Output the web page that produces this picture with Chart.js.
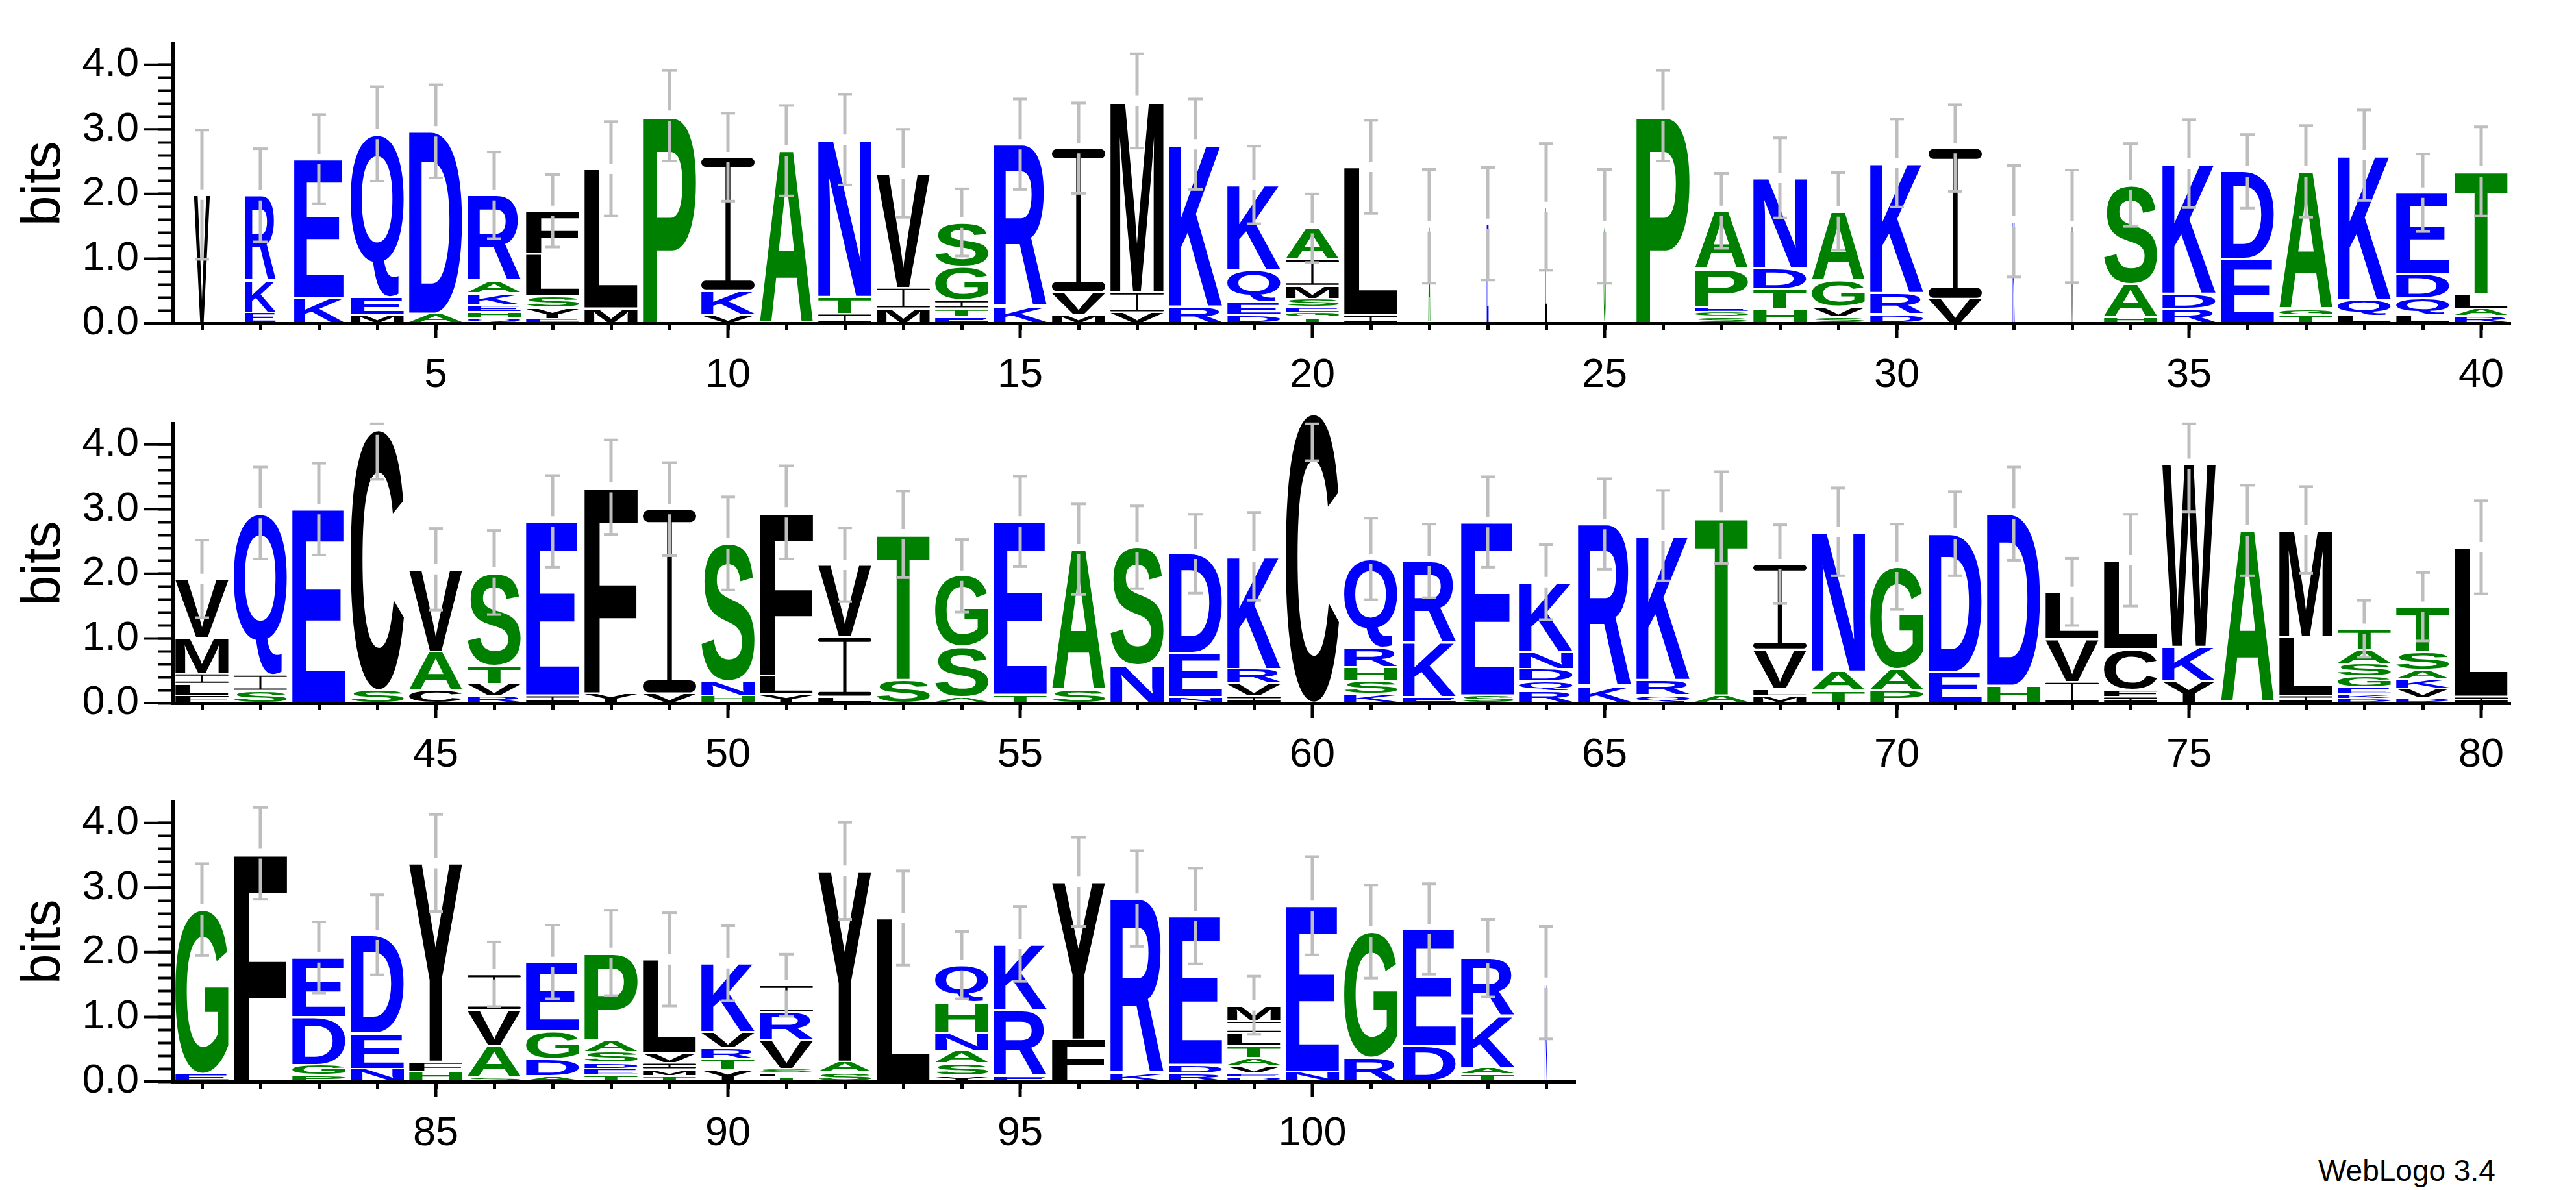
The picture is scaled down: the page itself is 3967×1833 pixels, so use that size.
<!DOCTYPE html>
<html>
<head>
<meta charset="utf-8">
<script src="https://cdn.jsdelivr.net/npm/chart.js@4.4.1/dist/chart.umd.min.js"></script>
<style>
  html, body { margin: 0; padding: 0; background: #fff; }
  body { width: 3967px; height: 1833px; position: relative; overflow: hidden; }
  .row { position: absolute; left: 0; width: 3967px; height: 598px; }
  #credit {
    position: absolute; left: 3570px; top: 1780px;
    font: 46px/46px "Liberation Sans", Arial, sans-serif; color: #000; white-space: nowrap;
  }
</style>
</head>
<body>
<div class="row" style="top:0px"><canvas id="row1" width="3967" height="598"></canvas></div>
<div class="row" style="top:585px"><canvas id="row2" width="3967" height="598"></canvas></div>
<div class="row" style="top:1168px"><canvas id="row3" width="3967" height="598"></canvas></div>
<div id="credit">WebLogo 3.4</div>
<script>
// residues per position, listed top of stack first
const lettersRow1 = ["V", "RKE", "EK", "QEM", "DA", "RAKEHQ", "FLSYE", "LM", "P", "IKV",
  "A", "NTI", "VIM", "SGITE", "RK", "IVM", "MIV", "KR", "KQED", "AIMSEGT",
  "LI", "A", "E", "L", "G", "P", "APEGS", "NDTH", "AGVS", "KRD",
  "IV", "K", "V", "SAH", "KDR", "DE", "AGT", "KQL", "EDQL", "TLAR"];
const bitsRow1 = [[1.99], [1.31, 0.50, 0.17], [2.15, 0.39], [2.52, 0.27, 0.14], [2.82, 0.15],
  [1.32, 0.19, 0.19, 0.10, 0.09, 0.09], [0.66, 0.66, 0.18, 0.17, 0.07], [2.16, 0.23], [3.21], [2.06, 0.37, 0.14],
  [2.67], [2.43, 0.26, 0.15], [1.77, 0.32, 0.23], [0.68, 0.52, 0.13, 0.13, 0.10], [2.51, 0.26],
  [2.23, 0.34, 0.14], [2.96, 0.31, 0.17], [2.51, 0.26], [1.32, 0.50, 0.19, 0.13], [0.48, 0.41, 0.20, 0.13, 0.08, 0.08, 0.09],
  [2.29, 0.13], [1.50], [1.54], [1.80], [1.50], [3.21], [0.90, 0.58, 0.08, 0.08, 0.10],
  [1.40, 0.32, 0.31, 0.22], [1.07, 0.40, 0.16, 0.10], [2.01, 0.33, 0.14],
  [2.33, 0.38], [1.58], [1.50], [1.53, 0.51, 0.10], [2.01, 0.23, 0.23], [1.35, 1.00], [2.13, 0.10, 0.12],
  [2.24, 0.24, 0.12], [1.25, 0.38, 0.26, 0.13], [1.90, 0.22, 0.12, 0.11]];
const errRow1 = [1.00, 0.72, 0.69, 0.73, 0.72, 0.67, 0.56, 0.73, 0.70, 0.68,
  0.70, 0.70, 0.68, 0.52, 0.70, 0.70, 0.73, 0.70, 0.60, 0.53,
  0.72, 0.88, 0.87, 0.98, 0.88, 0.70, 0.58, 0.62, 0.60, 0.68,
  0.67, 0.86, 0.87, 0.64, 0.68, 0.57, 0.71, 0.70, 0.60, 0.69];
const widthRow1 = [0.3, 0.57, 0.93, 1, 1, 1, 1, 1, 1, 1,
  1, 1, 1, 1, 1, 1, 1, 1, 1, 1,
  1, 0.035, 0.035, 0.035, 0.035, 1, 1, 1, 1, 1,
  1, 0.035, 0.03, 1, 1, 1, 1, 1, 1, 1];

const lettersRow2 = ["VMILF", "QIS", "E", "CS", "VAC", "STVR", "EI", "FY", "IV", "SNH",
  "FLY", "VIL", "TS", "GSA", "ET", "AS", "SN", "DEN", "KRVI", "C",
  "QRHSK", "RKE", "ES", "KNDQR", "RK", "KRQ", "TA", "IVLM", "NAT", "GAP",
  "DE", "DH", "LVI", "LCFI", "WKY", "A", "MLI", "TASGEKD", "TSAKVD", "LI"];
const bitsRow2 = [[0.91, 0.55, 0.16, 0.18, 0.12], [2.50, 0.25, 0.19], [3.00], [4.03, 0.20], [1.27, 0.60, 0.20],
  [1.44, 0.28, 0.19, 0.11], [2.69, 0.12], [3.19, 0.15], [2.85, 0.15], [2.13, 0.22, 0.12],
  [2.53, 0.28, 0.14], [1.12, 0.92, 0.10], [2.25, 0.36], [1.10, 0.77, 0.10], [2.68, 0.13],
  [2.17, 0.21], [1.83, 0.58], [1.53, 0.68, 0.10], [1.74, 0.22, 0.20, 0.11], [4.48],
  [1.37, 0.30, 0.22, 0.20, 0.14], [1.26, 0.84, 0.10], [2.68, 0.12], [1.08, 0.26, 0.19, 0.15, 0.19], [2.51, 0.26],
  [2.23, 0.24, 0.12], [2.75, 0.12], [1.32, 0.61, 0.11, 0.11], [2.16, 0.30, 0.19], [1.58, 0.33, 0.20],
  [2.14, 0.48], [2.66, 0.27], [0.73, 0.66, 0.33], [1.37, 0.63, 0.11, 0.10], [2.83, 0.53, 0.34],
  [2.67], [1.66, 0.90, 0.12], [0.32, 0.22, 0.20, 0.17, 0.10, 0.07, 0.07], [0.70, 0.28, 0.14, 0.14, 0.14, 0.09], [2.31, 0.10]];
const errRow2 = [0.60, 0.71, 0.71, 0.77, 0.63, 0.65, 0.71, 0.73, 0.72, 0.72,
  0.72, 0.57, 0.67, 0.56, 0.70, 0.70, 0.64, 0.61, 0.68, 0.73,
  0.63, 0.57, 0.70, 0.58, 0.70, 0.70, 0.71, 0.61, 0.68, 0.66,
  0.65, 0.72, 0.52, 0.71, 0.74, 0.70, 0.67, 0.44, 0.53, 0.72];
const widthRow2 = [1, 1, 1, 1, 1, 1, 1, 1, 1, 1,
  1, 1, 1, 1, 1, 1, 1, 1, 1, 1,
  1, 1, 1, 1, 1, 1, 1, 1, 1, 1,
  1, 1, 1, 1, 1, 1, 1, 1, 1, 1];

const lettersRow3 = ["GE", "F", "EDGP", "DEN", "YFH", "IVAS", "EGDA", "PASDET", "LVIMT", "KVRTY",
  "IRVSLT", "YAS", "L", "QHNASY", "KRE", "YF", "RK", "EDR", "MILTAVED", "EN",
  "GR", "ED", "RKAT", "K"];
const bitsRow3 = [[2.54, 0.12], [3.53], [0.92, 0.74, 0.16, 0.10], [1.52, 0.55, 0.20], [3.07, 0.15, 0.16],
  [0.55, 0.56, 0.48, 0.07], [1.07, 0.43, 0.26, 0.09], [1.34, 0.19, 0.17, 0.09, 0.10, 0.10],
  [1.44, 0.16, 0.10, 0.10, 0.09], [1.06, 0.25, 0.17, 0.16, 0.19],
  [0.42, 0.43, 0.44, 0.07, 0.06, 0.07], [2.95, 0.17, 0.14], [2.53], [0.57, 0.47, 0.28, 0.20, 0.19, 0.09],
  [1.02, 1.02, 0.09], [2.44, 0.65], [2.70, 0.13], [2.30, 0.13, 0.13],
  [0.24, 0.19, 0.19, 0.19, 0.12, 0.12, 0.06, 0.07], [2.57, 0.15],
  [1.95, 0.37], [1.81, 0.55], [0.90, 0.79, 0.11, 0.11], [1.53]];
const errRow3 = [0.71, 0.71, 0.55, 0.62, 0.75, 0.50, 0.57, 0.66, 0.72, 0.58,
  0.48, 0.75, 0.73, 0.52, 0.58, 0.69, 0.74, 0.74, 0.45, 0.76,
  0.72, 0.70, 0.60, 0.87];
const widthRow3 = [1, 1, 1, 1, 1, 1, 1, 1, 1, 1,
  1, 1, 1, 1, 1, 1, 1, 1, 1, 1,
  1, 1, 1, 0.05];

const MAX_BITS = 4.32;
const hydrophilic = "DEKRNQ";
const neutral = "AGHPST";

function colorOf(ch) {
  if (hydrophilic.includes(ch)) return "#0000ff";
  if (neutral.includes(ch)) return "#008000";
  return "#000000";
}

const glyphFont = 'bold 200px "Liberation Sans", Arial, sans-serif';

// the logo's I has cross bars, so it is drawn by hand
function drawSerifI(ctx, x0, y0, w, h) {
  const bar = Math.max(2, 0.066 * h);
  const stem = Math.max(3, Math.min(0.09 * w, 0.035 * h + 2));
  const r = Math.min(bar / 2, w / 2);
  ctx.beginPath();
  ctx.roundRect(x0, y0, w, bar, r);
  ctx.roundRect(x0, y0 + h - bar, w, bar, r);
  ctx.rect(x0 + w / 2 - stem / 2, y0 + bar / 2, stem, h - bar);
  ctx.fill();
}

// stretch one glyph so its ink box fills the given rectangle
function drawGlyph(ctx, ch, x0, y0, w, h) {
  if (w <= 0 || h <= 0) return;
  ctx.save();
  ctx.fillStyle = colorOf(ch);
  if (ch === "I") {
    drawSerifI(ctx, x0, y0, w, h);
    ctx.restore();
    return;
  }
  ctx.font = glyphFont;
  const m = ctx.measureText(ch);
  const gw = m.actualBoundingBoxLeft + m.actualBoundingBoxRight;
  const gh = m.actualBoundingBoxAscent + m.actualBoundingBoxDescent;
  ctx.translate(x0, y0);
  ctx.scale(w / gw, h / gh);
  ctx.textAlign = "left";
  ctx.textBaseline = "alphabetic";
  ctx.fillText(ch, m.actualBoundingBoxLeft, m.actualBoundingBoxAscent);
  ctx.restore();
}

const logoPlugin = {
  id: "logo",
  afterDatasetsDraw(chart, args, opts) {
    const { ctx, scales: { x, y } } = chart;
    const totals = opts.widths.map(() => 0);
    chart.data.datasets.forEach((ds, di) => {
      const meta = chart.getDatasetMeta(di);
      meta.data.forEach((bar, i) => {
        const ch = ds.glyphs[i];
        if (!ch || ds.data[i] == null) return;
        totals[i] += ds.data[i];
        const p = bar.getProps(["x", "y", "base", "width"], true);
        const w = p.width * opts.widths[i];
        const top = Math.min(p.y, p.base), bottom = Math.max(p.y, p.base);
        drawGlyph(ctx, ch, p.x - w / 2, top + 1.5, w, bottom - top - 3);
      });
    });

    // error bars
    ctx.save();
    ctx.strokeStyle = "#bebebe";
    ctx.fillStyle = "#bebebe";
    ctx.lineWidth = 5;
    totals.forEach((t, i) => {
      const cx = x.getPixelForValue(i);
      const hi = y.getPixelForValue(Math.min(t + opts.errs[i], MAX_BITS));
      const lo = y.getPixelForValue(t - opts.errs[i]);
      const st = y.getPixelForValue(t);
      ctx.beginPath();
      if (st - 8 > hi) { ctx.moveTo(cx, hi); ctx.lineTo(cx, st - 8); }
      ctx.moveTo(cx, Math.max(st + 8, hi)); ctx.lineTo(cx, lo);
      ctx.stroke();
      ctx.fillRect(cx - 11, hi - 2, 22, 4);
      ctx.fillRect(cx - 11, lo - 2, 22, 4);
    });
    ctx.restore();
  },
  afterDraw(chart, args, opts) {
    // longer ticks for the labelled values
    const { ctx, chartArea, scales: { x, y } } = chart;
    ctx.save();
    ctx.strokeStyle = "#000";
    ctx.lineWidth = 4;
    y.ticks.forEach((t) => {
      if (Math.abs(t.value - Math.round(t.value)) > 1e-6) return;
      const py = y.getPixelForValue(t.value);
      ctx.beginPath();
      ctx.moveTo(chartArea.left - 45, py);
      ctx.lineTo(chartArea.left - 3, py);
      ctx.stroke();
    });
    ctx.lineWidth = 5;
    x.ticks.forEach((t, i) => {
      if ((opts.first + i) % 5 !== 0) return;
      const px = x.getPixelForValue(i);
      ctx.beginPath();
      ctx.moveTo(px, chartArea.bottom);
      ctx.lineTo(px, chartArea.bottom + 23);
      ctx.stroke();
    });
    ctx.restore();
  },
};

const tickFont = { family: '"Liberation Sans", Arial, sans-serif', size: 63 };

function buildRow(canvasId, first, letters, bits, errs, widths) {
  const labels = letters.map((_, i) => String(first + i));
  const depth = Math.max(...bits.map((b) => b.length));
  const datasets = [];
  for (let k = 0; k < depth; k++) {
    datasets.push({
      label: "level " + k,
      data: bits.map((b) => (b.length > k ? b[b.length - 1 - k] : null)),
      glyphs: letters.map((s) => (s.length > k ? s[s.length - 1 - k] : "")),
      backgroundColor: "rgba(0,0,0,0)",
      borderWidth: 0,
      barPercentage: 0.911,
      categoryPercentage: 1,
    });
  }

  new Chart(document.getElementById(canvasId), {
    type: "bar",
    data: { labels, datasets },
    plugins: [logoPlugin],
    options: {
      responsive: false,
      animation: false,
      events: [],
      layout: { padding: { top: 49, left: 0, bottom: 0, right: 3967 - 266 - letters.length * 90 } },
      plugins: {
        legend: { display: false },
        tooltip: { enabled: false },
        logo: { widths, errs, first },
      },
      scales: {
        x: {
          stacked: true,
          afterFit: (scale) => { scale.height = 100; },
          border: { display: true, color: "#000", width: 5 },
          grid: { display: true, drawOnChartArea: false, offset: false, tickLength: 11, tickWidth: 5, tickColor: "#000" },
          ticks: {
            autoSkip: false, maxRotation: 0, padding: 32, color: "#000", font: tickFont,
            callback: (v, i) => ((first + i) % 5 === 0 ? String(first + i) : ""),
          },
        },
        y: {
          stacked: true,
          min: 0,
          max: MAX_BITS,
          afterFit: (scale) => { scale.width = 266; },
          afterBuildTicks: (scale) => { scale.ticks = scale.ticks.filter((t) => t.value <= 4.2001); },
          border: { display: true, color: "#000", width: 5 },
          grid: { display: true, drawOnChartArea: false, tickLength: 22, tickWidth: 4, tickColor: "#000" },
          ticks: {
            autoSkip: false, stepSize: 0.2, padding: 30, color: "#000", font: tickFont,
            callback: (v) => (Math.abs(v - Math.round(v)) < 1e-6 ? v.toFixed(1) : ""),
          },
          title: {
            display: true, text: "bits", color: "#000",
            font: { family: '"Liberation Sans", Arial, sans-serif', size: 84 },
            padding: { top: 18, bottom: 0 },
          },
        },
      },
    },
  });
}

buildRow("row1", 1, lettersRow1, bitsRow1, errRow1, widthRow1);
buildRow("row2", 41, lettersRow2, bitsRow2, errRow2, widthRow2);
buildRow("row3", 81, lettersRow3, bitsRow3, errRow3, widthRow3);
</script>
</body>
</html>
